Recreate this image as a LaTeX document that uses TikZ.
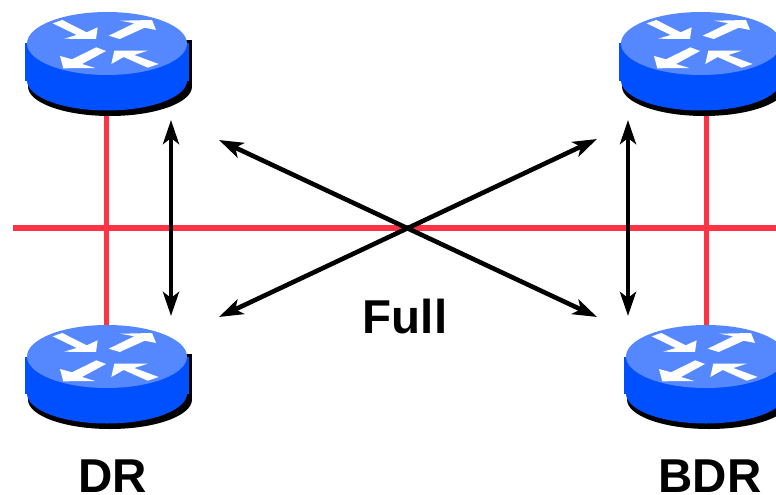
\documentclass[tikz,border=0pt]{standalone}
\usepackage{fontspec}
\setmainfont{Liberation Sans}
\usetikzlibrary{arrows.meta}
\definecolor{rtop}{HTML}{5588FF}
\definecolor{rbody}{HTML}{0050FF}
\definecolor{linkred}{HTML}{FF3344}
\tikzset{
  x=1pt,y=-1pt,
  link/.style={draw=linkred,line width=5.5pt},
  adj/.style={draw=black,line width=4.6pt,{Stealth[length=24pt,width=16pt,inset=6pt]}-{Stealth[length=24pt,width=16pt,inset=6pt]}},
  lbl/.style={font=\fontsize{47.5}{47.5}\selectfont\bfseries,inner sep=0pt,anchor=center},
  rarrow/.style={fill=white,draw=none},
  router/.pic={
    % coordinates relative to the centre of the top disc
    \fill[black] (-79,-3) rectangle (85,43.5);
    \fill[black] (3,43) ellipse [x radius=82,y radius=29.5];
    \fill[rbody] (-82,0) rectangle (82,37);
    \fill[rbody] (0,37) ellipse [x radius=80,y radius=30];
    \fill[rtop] (0,0) ellipse [x radius=80,y radius=31.5];
    \fill[rarrow] (-54.3,-20.2) -- (-44.7,-23.5) -- (-20.3,-11.2) -- (-9.3,-16.2) -- (-11,-4.5) -- (-43,-4.8) -- (-30.3,-8.5) -- cycle;
    \fill[rarrow] (1.7,-7.8) -- (27.3,-20.2) -- (13.3,-22.8) -- (45,-23.5) -- (49,-13.5) -- (37.7,-15.8) -- (12.7,-4.5) -- cycle;
    \fill[rarrow] (-1,7.5) -- (-10.7,3.8) -- (-35,15.8) -- (-47,12.5) -- (-43.7,24.8) -- (-11.7,24.5) -- (-25,20.5) -- cycle;
    \fill[rarrow] (51.7,20.5) -- (40.7,24.2) -- (16.7,13.5) -- (4.3,20.5) -- (7.3,7.2) -- (40.7,7.2) -- (27.3,11.5) -- cycle;
  }
}
\begin{document}
\begin{tikzpicture}
\useasboundingbox (0,0) rectangle (776,495);
\clip (0,0) rectangle (776,495);
\coordinate (rTL) at (107,43.5);
\coordinate (rTR) at (701,43.5);
\coordinate (rBL) at (107,356.5);
\coordinate (rBR) at (706,356.5);
\coordinate (busL) at (13,228);
\coordinate (busR) at (776,228);
\coordinate (aL1) at (171,120);
\coordinate (aL2) at (171,316);
\coordinate (aR1) at (628,120);
\coordinate (aR2) at (628,316);
\coordinate (d1) at (219,140);
\coordinate (d2) at (597,317);
\coordinate (d3) at (219,317);
\coordinate (d4) at (597,139);
\path[link] (busL) -- (busR);
\path[link] (106.5,100) -- (106.5,340);
\path[link] (706.5,100) -- (706.5,340);
\path[adj] (aL1) -- (aL2);
\path[adj] (aR1) -- (aR2);
\path[adj] (d1) -- (d2);
\path[adj] (d3) -- (d4);
\pic at (rTL) {router};
\pic at (rTR) {router};
\pic at (rBL) {router};
\pic at (rBR) {router};
\node[lbl] (full) at (405,317) {Full};
\node[lbl] (dr) at (113,476) {DR};
\node[lbl] (bdr) at (710,476) {BDR};
\end{tikzpicture}
\end{document}
